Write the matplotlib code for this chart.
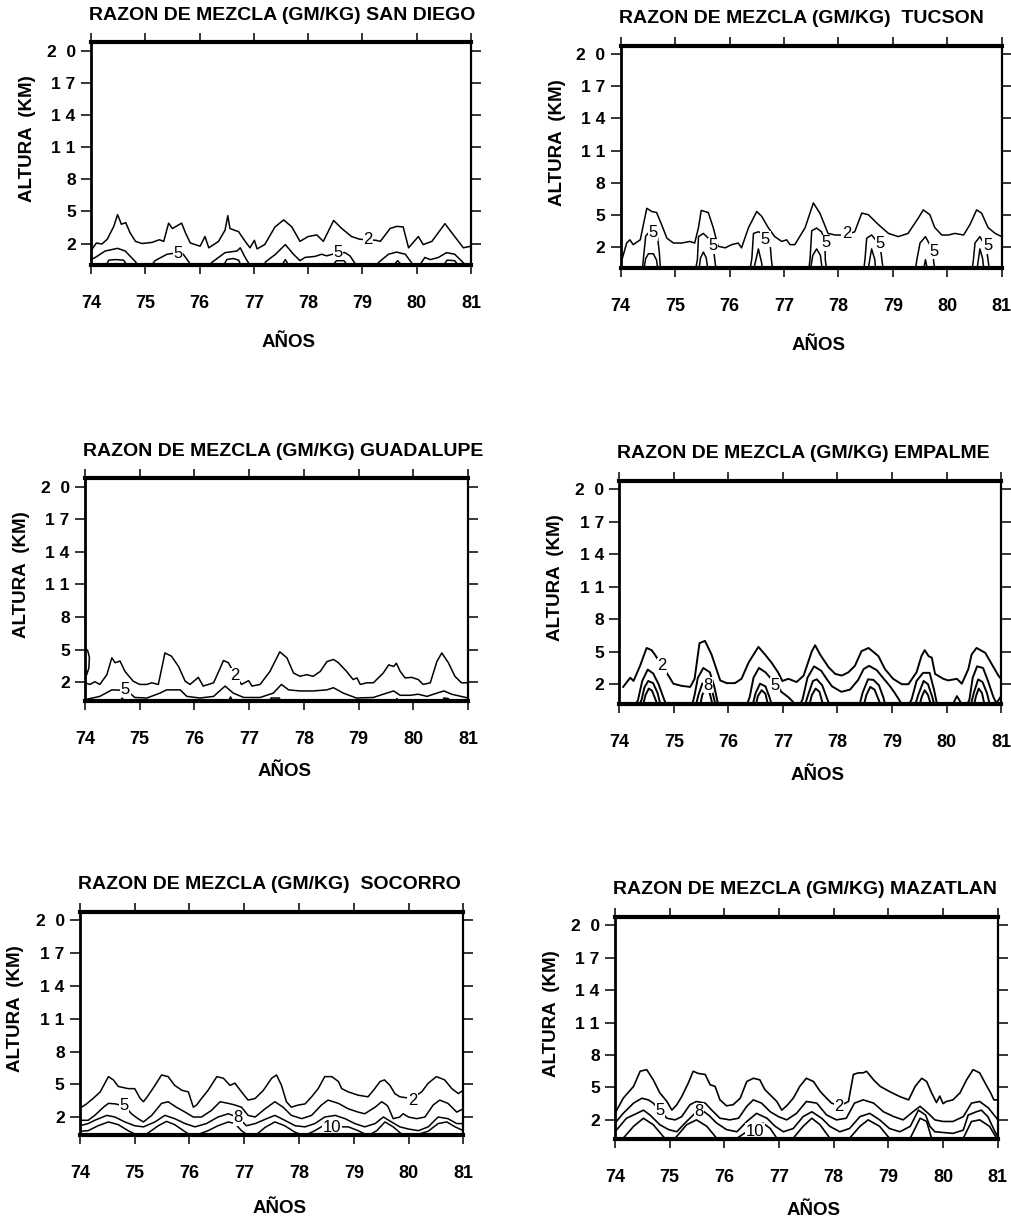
import matplotlib.pyplot as plt
import numpy as np

plt.rcParams['font.family'] = ['Liberation Sans', 'DejaVu Sans']


# Axis ticks and panel titles
year_ticks = [74, 75, 76, 77, 78, 79, 80, 81]
year_labels = ['74', '75', '76', '77', '78', '79', '80', '81']
height_ticks = [2, 5, 8, 11, 14, 17, 20]
height_labels = ['2', '5', '8', '1 1', '1 4', '1 7', '2  0']

titles = [
    'RAZON DE MEZCLA (GM/KG) SAN DIEGO',
    'RAZON DE MEZCLA (GM/KG)  TUCSON',
    'RAZON DE MEZCLA (GM/KG) GUADALUPE',
    'RAZON DE MEZCLA (GM/KG) EMPALME',
    'RAZON DE MEZCLA (GM/KG)  SOCORRO',
    'RAZON DE MEZCLA (GM/KG) MAZATLAN',
]


# Isolines of mixing ratio: year (t) and height in km (h).
# Height 0 marks where an isoline meets the ground (clipped by the axis).

# ---- San Diego
sd_t2 = [74.0, 74.05, 74.1, 74.2, 74.3, 74.42, 74.49, 74.56, 74.64, 74.72, 74.82, 74.94,
         75.12, 75.26, 75.34, 75.43, 75.5, 75.67, 75.74, 75.83, 76.01, 76.1, 76.17, 76.35,
         76.47, 76.52, 76.56, 76.72, 76.84, 76.93, 77.01, 77.06, 77.2, 77.39, 77.55, 77.7,
         77.85, 78.0, 78.16, 78.28, 78.47, 78.62, 78.8, 78.95, 79.1, 79.25, 79.33, 79.51,
         79.63, 79.75, 79.85, 80.03, 80.12, 80.28, 80.52, 80.7, 80.86, 81.0]
sd_h2 = [1.3, 1.7, 2.05, 1.95, 2.4, 3.6, 4.7, 3.8, 3.95, 3.0, 2.2, 2.0,
         2.1, 2.35, 2.2, 3.9, 3.4, 3.9, 3.0, 2.05, 1.75, 2.65, 1.6, 2.2,
         3.25, 4.6, 3.4, 3.1, 2.2, 1.6, 2.3, 1.5, 1.9, 3.55, 4.2, 3.55,
         2.2, 2.65, 2.8, 2.2, 4.15, 3.4, 2.65, 2.4, 2.35, 2.3, 2.2, 3.4,
         3.6, 3.55, 1.6, 2.65, 1.9, 2.2, 3.85, 2.65, 1.6, 1.75]
sd_t5 = [74.0, 74.08, 74.26, 74.49, 74.63, 74.82, 74.86, 75.12, 75.18, 75.4, 75.61, 75.7,
         75.8, 75.84, 76.18, 76.23, 76.47, 76.69, 76.75, 76.84, 76.9, 76.93, 77.18, 77.22,
         77.4, 77.58, 77.73, 77.85, 77.94, 78.13, 78.25, 78.34, 78.56, 78.68, 78.77, 78.87,
         78.9, 79.27, 79.3, 79.48, 79.63, 79.79, 79.9, 79.93, 80.06, 80.09, 80.15, 80.25,
         80.4, 80.55, 80.7, 80.86, 80.9, 81.0]
sd_h5 = [0.5, 0.7, 1.3, 1.55, 1.3, 0.3, 0.0, 0.0, 0.4, 1.0, 1.15, 1.0,
         0.3, 0.0, 0.0, 0.25, 1.15, 1.3, 1.6, 0.7, 0.2, 0.0, 0.0, 0.3,
         1.0, 1.9, 1.0, 0.4, 0.7, 0.8, 1.0, 0.85, 1.15, 1.15, 0.85, 0.1,
         0.0, 0.0, 0.25, 1.0, 1.2, 1.0, 0.25, 0.0, 0.0, 0.25, 0.7, 0.5,
         0.7, 1.15, 1.0, 0.2, 0.0, 0.0]
sd_t8 = [74.28, 74.33, 74.45, 74.6, 74.66, 76.45, 76.5, 76.62, 76.72, 76.76, 77.52, 77.58,
         77.64, 78.46, 78.52, 78.66, 78.72, 79.58, 79.65, 79.72, 80.5, 80.56, 80.7, 80.76]
sd_h8 = [0, 0.45, 0.5, 0.45, 0, 0, 0.5, 0.6, 0.45, 0, 0, 0.5,
         0, 0, 0.4, 0.4, 0, 0, 0.4, 0, 0, 0.45, 0.4, 0]
sd_lab = ['2', '5', '5']
sd_lab_t = [79.1, 75.6, 78.55]
sd_lab_h = [2.35, 1.1, 1.2]

# ---- Tucson
tu_t2 = [74.0, 74.03, 74.11, 74.17, 74.23, 74.36, 74.48, 74.57, 74.66, 74.75, 74.85, 74.97,
         75.12, 75.27, 75.36, 75.43, 75.48, 75.61, 75.7, 75.79, 75.92, 76.04, 76.16, 76.22,
         76.35, 76.5, 76.59, 76.71, 76.83, 76.96, 77.05, 77.11, 77.2, 77.39, 77.54, 77.66,
         77.81, 77.94, 78.12, 78.3, 78.43, 78.55, 78.73, 78.92, 79.1, 79.28, 79.47, 79.56,
         79.68, 79.77, 79.9, 80.02, 80.14, 80.3, 80.42, 80.54, 80.63, 80.75, 80.88, 81.0]
tu_h2 = [0.6, 0.9, 2.35, 2.65, 2.2, 2.65, 5.6, 5.3, 5.2, 4.1, 2.8, 2.35,
         2.35, 2.5, 2.35, 3.8, 5.4, 5.2, 3.8, 2.05, 1.9, 2.2, 2.35, 1.9,
         3.8, 5.3, 4.85, 3.8, 2.95, 2.5, 2.65, 2.2, 2.2, 3.8, 6.1, 5.15,
         3.25, 3.1, 3.1, 3.4, 5.15, 5.0, 4.1, 3.25, 2.95, 3.25, 4.7, 5.45,
         5.0, 3.8, 3.1, 3.1, 3.25, 3.1, 4.1, 5.45, 5.15, 3.8, 3.25, 2.95]
tu_t5 = [74.4, 74.43, 74.46, 74.53, 74.6, 74.68, 74.71, 74.73,
         75.38, 75.41, 75.43, 75.52, 75.61, 75.7, 75.73, 75.75,
         76.38, 76.41, 76.44, 76.53, 76.68, 76.75, 76.77, 76.79,
         77.46, 77.48, 77.51, 77.6, 77.69, 77.75, 77.76, 77.78,
         78.47, 78.49, 78.52, 78.61, 78.76, 78.79, 78.8, 78.82,
         79.42, 79.44, 79.5, 79.6, 79.74, 79.75, 79.77,
         80.46, 80.48, 80.51, 80.6, 80.72, 80.75, 80.77]
tu_h5 = [0, 1.5, 3.0, 3.4, 3.1, 2.8, 1.5, 0,
         0, 0.8, 2.95, 3.25, 2.8, 2.05, 0.75, 0,
         0, 0.9, 3.25, 3.4, 3.1, 2.0, 0.75, 0,
         0, 0.9, 3.5, 3.75, 3.4, 2.6, 0.75, 0,
         0, 0.9, 2.8, 3.1, 2.2, 1.2, 0.75, 0,
         0, 0.75, 2.35, 2.95, 1.6, 0.6, 0,
         0, 0.75, 2.35, 2.95, 1.9, 0.75, 0]
tu_t8 = [74.43, 74.46, 74.51, 74.6, 74.66, 74.68,
         75.44, 75.47, 75.52, 75.57, 75.6,
         76.45, 76.53, 76.59, 76.6,
         77.49, 77.53, 77.6, 77.67, 77.7,
         78.55, 78.61, 78.67, 78.68,
         79.57, 79.6, 79.63,
         80.55, 80.6, 80.65, 80.67]
tu_h8 = [0, 0.9, 1.35, 1.35, 0.75, 0,
         0, 1.0, 1.5, 1.0, 0,
         0, 1.8, 0.5, 0,
         0, 1.2, 1.8, 1.2, 0,
         0, 1.8, 0.8, 0,
         0, 0.8, 0,
         0, 1.8, 0.9, 0]
tu_lab = ['2', '5', '5', '5', '5', '5', '5', '5']
tu_lab_t = [78.15, 74.6, 75.7, 76.66, 77.78, 78.77, 79.75, 80.74]
tu_lab_h = [3.2, 3.3, 2.1, 2.7, 2.4, 2.3, 1.6, 2.1]

# ---- Guadalupe
gu_t2 = [74.0, 74.09, 74.18, 74.27, 74.4, 74.49, 74.55, 74.64, 74.73, 74.88, 75.0, 75.13,
         75.22, 75.34, 75.43, 75.46, 75.58, 75.71, 75.83, 75.92, 76.07, 76.16, 76.35, 76.47,
         76.53, 76.62, 76.74, 76.86, 76.99, 77.05, 77.2, 77.38, 77.56, 77.69, 77.81, 77.93,
         78.05, 78.17, 78.3, 78.42, 78.54, 78.63, 78.78, 78.9, 78.97, 79.03, 79.15, 79.27,
         79.45, 79.55, 79.64, 79.69, 79.76, 79.85, 79.97, 80.09, 80.18, 80.31, 80.43, 80.52,
         80.64, 80.76, 80.88, 81.0]
gu_h2 = [1.95, 1.8, 2.05, 1.8, 2.7, 4.25, 3.8, 3.95, 3.0, 2.1, 1.8, 1.8,
         1.95, 1.8, 3.95, 4.7, 4.4, 3.45, 2.1, 1.8, 2.45, 1.65, 1.95, 3.3,
         4.0, 3.8, 2.7, 1.8, 2.15, 1.65, 1.8, 3.0, 4.8, 4.25, 2.85, 2.55,
         2.7, 2.55, 3.0, 3.9, 4.1, 3.8, 3.0, 2.25, 2.4, 1.8, 1.95, 1.95,
         2.85, 3.6, 3.45, 3.75, 3.0, 2.4, 2.45, 2.25, 1.8, 1.95, 3.9, 4.7,
         3.8, 2.55, 1.95, 1.95]
gu_t2b = [74.0, 74.05, 74.08, 74.07, 74.03, 74.0]
gu_h2b = [5.2, 4.9, 4.3, 3.3, 2.7, 2.5]
gu_t5 = [74.0, 74.27, 74.49, 74.76, 74.91, 75.13, 75.37, 75.49, 75.74, 75.86, 76.1, 76.35,
         76.56, 76.71, 76.9, 77.2, 77.44, 77.59, 77.72, 77.93, 78.17, 78.42, 78.54, 78.72,
         78.96, 79.27, 79.45, 79.64, 79.76, 79.94, 80.09, 80.25, 80.43, 80.56, 80.7, 81.0]
gu_h5 = [0.4, 0.7, 1.3, 1.25, 0.6, 0.55, 1.0, 1.3, 1.3, 0.7, 0.55, 0.7,
         1.65, 1.0, 0.6, 0.6, 1.0, 1.8, 1.3, 1.2, 1.2, 1.3, 1.5, 1.0,
         0.55, 0.6, 0.9, 1.2, 0.8, 0.8, 0.9, 0.7, 1.0, 1.2, 0.9, 0.55]
gu_t8 = [74.62, 74.68, 74.74, 76.6, 76.66, 76.72, 77.35, 77.4, 77.55, 77.6,
         79.66, 79.7, 79.74, 80.5, 80.56, 80.64, 80.68]
gu_h8 = [0, 0.55, 0, 0, 0.65, 0, 0, 0.55, 0.55, 0,
         0, 0.5, 0, 0, 0.55, 0.5, 0]
gu_lab = ['2', '5']
gu_lab_t = [76.74, 74.74]
gu_lab_h = [2.6, 1.35]

# ---- Empalme
em_t2 = [74.07, 74.2, 74.26, 74.38, 74.5, 74.59, 74.65, 74.78, 74.9, 74.99, 75.14, 75.3,
         75.38, 75.47, 75.57, 75.69, 75.78, 75.85, 75.97, 76.12, 76.24, 76.37, 76.55, 76.67,
         76.79, 76.91, 76.99, 77.1, 77.25, 77.38, 77.53, 77.59, 77.68, 77.84, 77.96, 78.08,
         78.2, 78.32, 78.44, 78.57, 78.75, 78.87, 79.02, 79.18, 79.3, 79.45, 79.54, 79.6,
         79.67, 79.73, 79.79, 79.94, 80.03, 80.19, 80.28, 80.4, 80.46, 80.55, 80.71, 80.83,
         80.95, 81.0]
em_h2 = [1.75, 2.6, 2.3, 3.7, 5.35, 5.15, 4.75, 3.7, 2.8, 2.05, 1.85, 1.75,
         2.5, 5.8, 6.0, 4.75, 3.4, 2.35, 2.1, 2.1, 2.5, 4.0, 5.45, 4.75,
         4.0, 3.1, 2.3, 2.5, 2.2, 2.8, 5.05, 5.6, 4.75, 3.55, 2.95, 2.8,
         3.1, 3.7, 5.05, 5.35, 4.6, 3.4, 2.5, 2.0, 2.0, 3.1, 4.6, 5.15,
         4.6, 4.45, 2.95, 2.5, 2.35, 2.5, 2.05, 3.4, 4.75, 5.35, 4.9, 3.85,
         2.8, 2.5]
em_t5 = [74.28, 74.34, 74.42, 74.52, 74.62, 74.72, 74.82, 74.87,
         75.33, 75.38, 75.44, 75.54, 75.66, 75.74, 75.8, 75.83,
         76.33, 76.39, 76.46, 76.56, 76.68, 76.8, 76.89, 76.97, 77.1, 77.18, 77.22,
         77.3, 77.36, 77.45, 77.57, 77.7, 77.8, 77.9, 78.07, 78.23, 78.38, 78.48, 78.58,
         78.72, 78.85, 78.95, 79.05, 79.15, 79.2,
         79.3, 79.36, 79.45, 79.57, 79.69, 79.77, 79.82, 79.85,
         80.1, 80.14, 80.19, 80.25, 80.29,
         80.37, 80.42, 80.48, 80.56, 80.67, 80.76, 80.86, 80.91, 80.95, 81.0]
em_h5 = [0, 0.5, 2.3, 3.35, 3.0, 2.0, 0.6, 0,
         0, 1.0, 2.6, 3.5, 3.1, 1.8, 0.4, 0,
         0, 0.8, 2.6, 3.5, 3.1, 2.4, 1.9, 1.3, 0.8, 0.4, 0,
         0, 0.6, 2.6, 3.65, 3.25, 2.5, 1.8, 1.3, 1.5, 2.4, 3.4, 3.7,
         3.3, 2.5, 1.9, 1.2, 0.4, 0,
         0, 0.6, 2.3, 3.05, 3.05, 1.5, 0.3, 0,
         0, 0.4, 0.9, 0.4, 0,
         0, 0.6, 2.6, 3.65, 3.5, 2.3, 0.8, 0.3, 0.5, 0.9]
em_t8 = [74.36, 74.41, 74.46, 74.53, 74.62, 74.7, 74.76,
         75.4, 75.45, 75.52, 75.6, 75.68, 75.74, 75.77,
         76.44, 76.5, 76.58, 76.68, 76.76, 76.8,
         77.4, 77.46, 77.55, 77.62, 77.72, 77.8, 77.86,
         78.4, 78.46, 78.56, 78.66, 78.76, 78.84, 78.88,
         79.42, 79.48, 79.58, 79.66, 79.74, 79.78,
         80.44, 80.5, 80.58, 80.66, 80.74, 80.8]
em_h8 = [0, 0.6, 1.7, 2.3, 2.1, 1.2, 0,
         0, 1.0, 2.05, 2.2, 1.8, 0.6, 0,
         0, 1.2, 2.05, 1.8, 0.7, 0,
         0, 1.0, 2.3, 2.45, 1.9, 0.8, 0,
         0, 1.2, 2.45, 2.4, 1.9, 0.8, 0,
         0, 1.0, 2.3, 2.0, 0.8, 0,
         0, 1.2, 2.45, 2.2, 1.2, 0]
em_t10 = [74.43, 74.48, 74.54, 74.6, 74.67, 74.7,
          75.48, 75.52, 75.58, 75.65, 75.7, 75.72,
          76.5, 76.54, 76.61, 76.68, 76.73,
          77.48, 77.53, 77.6, 77.67, 77.74,
          78.48, 78.53, 78.6, 78.68, 78.76, 78.8,
          79.5, 79.55, 79.6, 79.66, 79.72,
          80.5, 80.54, 80.59, 80.65, 80.7]
em_h10 = [0, 1.0, 1.6, 1.4, 0.5, 0,
          0, 1.0, 1.6, 1.3, 0.3, 0,
          0, 0.9, 1.45, 1.1, 0,
          0, 1.0, 1.6, 1.3, 0,
          0, 1.0, 1.75, 1.5, 0.5, 0,
          0, 0.9, 1.45, 1.0, 0,
          0, 0.9, 1.6, 1.2, 0]
em_lab = ['2', '8', '5']
em_lab_t = [74.78, 75.63, 76.86]
em_lab_h = [3.7, 1.9, 1.9]

# ---- Socorro
so_t2 = [74.0, 74.12, 74.24, 74.37, 74.52, 74.61, 74.7, 74.88, 75.0, 75.1, 75.16, 75.25,
         75.37, 75.49, 75.61, 75.73, 75.86, 75.98, 76.07, 76.13, 76.22, 76.34, 76.5, 76.62,
         76.74, 76.83, 76.95, 77.07, 77.2, 77.35, 77.5, 77.59, 77.68, 77.77, 77.86, 77.99,
         78.11, 78.23, 78.35, 78.47, 78.6, 78.72, 78.78, 78.9, 79.08, 79.26, 79.36, 79.48,
         79.56, 79.66, 79.75, 79.84, 80.06, 80.24, 80.36, 80.51, 80.66, 80.79, 80.91, 81.0]
so_h2 = [2.8, 3.2, 3.7, 4.3, 5.7, 5.4, 4.8, 4.6, 4.6, 3.7, 3.4, 4.0,
         4.9, 5.85, 5.7, 4.9, 4.45, 4.3, 2.9, 3.1, 3.7, 4.45, 5.7, 5.55,
         4.9, 5.1, 4.3, 3.55, 3.7, 4.45, 5.55, 5.85, 4.9, 3.4, 2.9, 3.1,
         3.2, 3.85, 4.6, 5.7, 5.7, 5.25, 4.6, 4.3, 4.0, 3.85, 4.45, 5.25,
         5.4, 4.9, 4.15, 3.85, 3.7, 4.3, 5.1, 5.7, 5.4, 4.6, 4.15, 4.45]
so_t5 = [74.0, 74.15, 74.27, 74.43, 74.52, 74.65, 74.82, 74.94, 75.06, 75.16, 75.31, 75.49,
         75.61, 75.76, 75.92, 76.07, 76.22, 76.4, 76.56, 76.71, 76.83, 76.95, 77.07, 77.2,
         77.38, 77.56, 77.71, 77.86, 78.05, 78.23, 78.41, 78.53, 78.72, 78.9, 79.08, 79.2,
         79.39, 79.51, 79.6, 79.63, 79.72, 79.84, 79.9, 80.0, 80.15, 80.3, 80.45, 80.57,
         80.72, 80.88, 81.0]
so_h5 = [1.7, 1.7, 2.15, 2.9, 3.25, 3.2, 3.0, 2.3, 1.85, 1.55, 2.15, 3.25,
         3.4, 2.9, 2.45, 2.0, 2.0, 2.6, 3.4, 3.25, 3.1, 2.9, 2.15, 2.0,
         2.75, 3.4, 2.9, 2.15, 1.85, 2.15, 3.1, 3.55, 3.25, 2.75, 2.45, 2.3,
         2.9, 3.4, 3.1, 2.9, 1.85, 2.0, 2.3, 2.0, 1.85, 2.0, 3.1, 3.55,
         3.25, 2.45, 2.75]
so_t8 = [74.0, 74.15, 74.27, 74.49, 74.64, 74.82, 75.0, 75.16, 75.37, 75.55, 75.73, 75.92,
         76.1, 76.31, 76.52, 76.71, 76.89, 77.04, 77.2, 77.41, 77.56, 77.74, 77.93, 78.11,
         78.29, 78.47, 78.66, 78.84, 79.02, 79.2, 79.39, 79.54, 79.69, 79.84, 80.0, 80.18,
         80.36, 80.54, 80.72, 80.88, 81.0]
so_h8 = [1.2, 1.4, 1.7, 2.15, 2.0, 1.55, 1.2, 1.1, 1.55, 2.15, 1.85, 1.4,
         1.1, 1.4, 2.0, 2.3, 1.95, 1.2, 1.4, 1.85, 2.15, 1.7, 1.2, 1.1,
         1.4, 2.0, 2.15, 1.85, 1.4, 1.1, 1.4, 2.0, 1.55, 1.1, 0.9, 0.75,
         1.1, 2.0, 1.85, 1.4, 1.4]
so_t10 = [74.0, 74.15, 74.33, 74.52, 74.7, 74.88, 75.0, 75.19, 75.43, 75.58, 75.73, 75.98,
          76.1, 76.34, 76.52, 76.71, 76.83, 76.95, 77.07, 77.2, 77.38, 77.56, 77.74, 77.93,
          78.1, 78.29, 78.44, 78.62, 78.9, 79.08, 79.26, 79.42, 79.57, 79.72, 79.87, 80.1,
          80.36, 80.54, 80.7, 80.85, 81.0]
so_h10 = [0.7, 0.75, 1.2, 1.55, 1.3, 0.75, 0.45, 0.35, 1.2, 1.6, 1.3, 0.45,
          0.3, 0.75, 1.2, 1.55, 1.4, 0.75, 0.3, 0.3, 1.05, 1.55, 1.2, 0.6,
          0.3, 0.75, 1.2, 1.1, 1.1, 0.75, 0.3, 0.75, 1.55, 1.1, 0.45, 0.3,
          0.7, 1.4, 1.55, 1.1, 0.75]
so_lab = ['5', '8', '10', '2']
so_lab_t = [74.8, 76.89, 78.6, 80.07]
so_lab_h = [3.1, 1.95, 1.0, 3.55]

# ---- Mazatlan
mz_t2 = [74.0, 74.15, 74.34, 74.46, 74.58, 74.7, 74.82, 74.95, 75.04, 75.13, 75.22, 75.34,
         75.43, 75.52, 75.65, 75.74, 75.83, 75.92, 76.04, 76.16, 76.29, 76.41, 76.53, 76.65,
         76.74, 76.84, 76.96, 77.05, 77.14, 77.26, 77.38, 77.5, 77.63, 77.75, 77.87, 77.96,
         78.12, 78.27, 78.36, 78.45, 78.54, 78.6, 78.73, 78.85, 79.03, 79.21, 79.37, 79.49,
         79.61, 79.7, 79.79, 79.88, 79.94, 80.0, 80.06, 80.18, 80.31, 80.43, 80.55, 80.67,
         80.77, 80.87, 80.93, 81.0]
mz_h2 = [2.6, 4.0, 5.1, 6.5, 6.65, 5.7, 4.5, 3.7, 2.9, 3.4, 4.15, 5.4,
         6.5, 6.3, 6.2, 5.25, 5.1, 3.85, 3.3, 3.4, 4.0, 5.55, 5.85, 5.7,
         4.8, 4.3, 3.7, 2.9, 3.3, 4.0, 5.1, 5.85, 5.55, 4.65, 4.0, 3.55,
         3.3, 3.7, 6.2, 6.35, 6.35, 6.5, 5.7, 5.1, 4.6, 4.15, 3.85, 5.1,
         5.85, 5.55, 4.5, 3.6, 4.2, 3.5, 3.7, 3.85, 4.5, 5.7, 6.65, 6.35,
         5.4, 4.5, 3.85, 3.85]
mz_t5 = [74.0, 74.15, 74.34, 74.49, 74.61, 74.7, 74.82, 74.95, 75.1, 75.22, 75.37, 75.49,
         75.65, 75.77, 75.92, 76.1, 76.26, 76.41, 76.53, 76.68, 76.84, 76.99, 77.14, 77.32,
         77.5, 77.69, 77.87, 78.05, 78.23, 78.38, 78.54, 78.73, 78.91, 79.1, 79.27, 79.45,
         79.58, 79.73, 79.85, 80.0, 80.18, 80.37, 80.52, 80.67, 80.83, 80.98, 81.0]
mz_h5 = [1.7, 2.6, 3.55, 4.0, 3.85, 3.55, 2.9, 2.15, 2.0, 2.3, 3.4, 3.7,
         3.55, 2.9, 2.15, 2.0, 2.15, 3.25, 3.85, 3.55, 2.75, 2.3, 2.0, 2.6,
         3.7, 3.55, 2.45, 2.0, 2.15, 3.55, 3.85, 3.55, 2.75, 2.3, 2.0, 2.75,
         3.25, 2.6, 2.0, 1.85, 1.85, 2.3, 3.55, 3.7, 3.1, 2.15, 2.0]
mz_t8 = [74.0, 74.21, 74.4, 74.52, 74.64, 74.82, 74.98, 75.13, 75.28, 75.46, 75.59, 75.71,
         75.86, 76.04, 76.23, 76.41, 76.59, 76.78, 76.93, 77.08, 77.26, 77.44, 77.6, 77.78,
         77.93, 78.11, 78.29, 78.48, 78.66, 78.84, 79.02, 79.21, 79.4, 79.55, 79.68, 79.76,
         79.85, 80.18, 80.37, 80.46, 80.61, 80.7, 80.82, 80.95, 81.0]
mz_h8 = [0.9, 2.15, 2.6, 2.9, 2.45, 1.55, 1.1, 0.9, 1.7, 2.6, 2.9, 2.45,
         1.7, 1.1, 0.9, 1.85, 2.6, 2.15, 1.4, 0.9, 1.2, 2.3, 2.75, 2.15,
         1.4, 0.9, 1.2, 2.3, 2.6, 2.0, 1.2, 0.9, 1.4, 2.9, 2.45, 1.4,
         0.9, 0.75, 1.05, 2.45, 2.75, 2.9, 2.3, 0.9, 0.45]
mz_t10 = [74.1, 74.15, 74.34, 74.52, 74.7, 74.91, 74.95,
          75.06, 75.1, 75.31, 75.49, 75.68, 75.86, 75.9,
          76.2, 76.23, 76.41, 76.53, 76.71, 76.84, 76.96, 77.0,
          77.22, 77.26, 77.44, 77.6, 77.75, 77.93, 77.97,
          78.25, 78.29, 78.48, 78.63, 78.84, 79.02, 79.06,
          79.36, 79.4, 79.58, 79.7, 79.79, 79.83,
          80.33, 80.37, 80.52, 80.67, 80.85, 80.98, 81.0]
mz_h10 = [0, 0.3, 1.4, 2.15, 1.55, 0.3, 0,
          0, 0.3, 1.55, 2.0, 1.4, 0.3, 0,
          0, 0.3, 0.9, 1.1, 1.7, 1.2, 0.3, 0,
          0, 0.3, 1.4, 2.15, 1.55, 0.3, 0,
          0, 0.3, 1.4, 2.0, 1.4, 0.3, 0,
          0, 0.3, 2.15, 1.85, 0.3, 0,
          0, 0.3, 1.85, 2.0, 1.4, 0.3, 0.1]
mz_lab = ['5', '8', '10', '2']
mz_lab_t = [74.82, 75.53, 76.56, 78.1]
mz_lab_h = [2.9, 2.8, 0.95, 3.25]


# Panel placement in figure fractions [left, bottom, width, height]
panel_rects = [
    [0.0899, 0.7830, 0.3755, 0.1826],
    [0.6133, 0.7808, 0.3765, 0.1818],
    [0.0840, 0.4261, 0.3785, 0.1824],
    [0.6120, 0.4234, 0.3772, 0.1829],
    [0.0790, 0.0704, 0.3788, 0.1829],
    [0.6077, 0.0669, 0.3782, 0.1823],
]
y_bottom = [0.0, 0.05, 0.3, 0.17, 0.35, 0.2]
xlabel_y = [-0.35, -0.35, -0.32, -0.32, -0.33, -0.32]
line_widths = [1.1, 1.1, 1.1, 1.4, 1.1, 1.2]

panels = [
    ([(sd_t2, sd_h2), (sd_t5, sd_h5), (sd_t8, sd_h8)], (sd_lab, sd_lab_t, sd_lab_h)),
    ([(tu_t2, tu_h2), (tu_t5, tu_h5), (tu_t8, tu_h8)], (tu_lab, tu_lab_t, tu_lab_h)),
    ([(gu_t2, gu_h2), (gu_t2b, gu_h2b), (gu_t5, gu_h5), (gu_t8, gu_h8)],
     (gu_lab, gu_lab_t, gu_lab_h)),
    ([(em_t2, em_h2), (em_t5, em_h5), (em_t8, em_h8), (em_t10, em_h10)],
     (em_lab, em_lab_t, em_lab_h)),
    ([(so_t2, so_h2), (so_t5, so_h5), (so_t8, so_h8), (so_t10, so_h10)],
     (so_lab, so_lab_t, so_lab_h)),
    ([(mz_t2, mz_h2), (mz_t5, mz_h5), (mz_t8, mz_h8), (mz_t10, mz_h10)],
     (mz_lab, mz_lab_t, mz_lab_h)),
]


fig = plt.figure(figsize=(10.12, 12.21), dpi=100)

for i, (curves, labels) in enumerate(panels):

    ax = fig.add_axes(panel_rects[i])

    for t, h in curves:
        ax.plot(t, h, color='black', lw=line_widths[i],
                solid_joinstyle='round', zorder=2)

    # inline contour labels; the white patch breaks the line but stays
    # under the frame
    for txt, lt, lh in zip(*labels):
        ax.text(lt, lh, txt, fontsize=12, ha='center', va='center', zorder=2.2,
                bbox=dict(facecolor='white', edgecolor='none', pad=0.4))

    ax.set_xlim(74, 81)
    ax.set_ylim(y_bottom[i], 20.8)

    ax.set_xticks(year_ticks)
    ax.set_xticklabels(year_labels, fontsize=13, fontweight='bold')
    ax.set_yticks(height_ticks)
    ax.set_yticklabels(height_labels, fontsize=12.5, fontweight='bold')

    ax.tick_params(axis='x', direction='out', top=True, bottom=True,
                   length=6.5, width=1.1, pad=15)
    ax.tick_params(axis='y', direction='out', left=True, right=True,
                   length=7, width=1.1, pad=4)

    ax.spines['top'].set_linewidth(3)
    ax.spines['bottom'].set_linewidth(3)
    ax.spines['left'].set_linewidth(2)
    ax.spines['right'].set_linewidth(1.6)

    ax.text(-0.005, 1.121, titles[i], transform=ax.transAxes,
            ha='left', va='center', fontsize=14, fontweight='bold')

    ax.text(-0.167, 0.565, 'ALTURA  (KM)', transform=ax.transAxes, rotation=90,
            ha='center', va='center', fontsize=13.5, fontweight='bold')

    ax.text(0.52, xlabel_y[i], 'AÑOS', transform=ax.transAxes,
            ha='center', va='center', fontsize=13.5, fontweight='bold')


plt.savefig('out.png', dpi=100)
